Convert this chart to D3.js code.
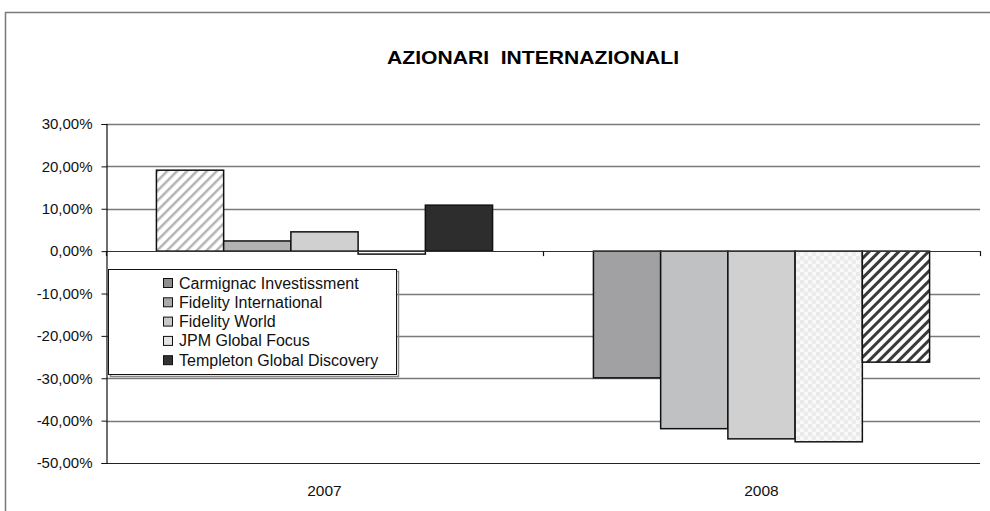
<!DOCTYPE html>
<html>
<head>
<meta charset="utf-8">
<script src="https://cdn.jsdelivr.net/npm/d3@7"></script>
<style>
  body { margin: 0; background: #fff; }
  svg { display: block; font-family: "Liberation Sans", Arial, sans-serif; }
</style>
</head>
<body>
<div class="chart"></div>
<script>
// data (percent)
var years = ["2007", "2008"];
var seriesNames = ["Carmignac Investissment", "Fidelity International", "Fidelity World", "JPM Global Focus", "Templeton Global Discovery"];
var carmignac = [19.1, -29.9];
var fidelityInt = [2.4, -41.9];
var fidelityWorld = [4.55, -44.3];
var jpmGlobal = [-0.7, -45.0];
var templeton = [10.85, -26.2];
var yTicks = [30, 20, 10, 0, -10, -20, -30, -40, -50];

var values = [carmignac, fidelityInt, fidelityWorld, jpmGlobal, templeton];

// per point fills (Excel style formatting), [year][series]
var pointFills = [
  ["url(#hatchLight)", "#b2b2b2", "#d0d0d0", "#ffffff", "#2d2d2d"],
  ["#a1a1a4", "#c0c1c3", "#d0d0d0", "url(#dots)", "url(#hatchDark)"]
];
var legendFills = ["#8e8e8e", "#aaaaaa", "#c8c8c8", "#e4e4e4", "#333333"];

var width = 990, height = 511;
var plotL = 106, plotR = 980, plotT = 124, plotB = 463;

var svg = d3.select(".chart").append("svg").attr("width", width).attr("height", height);
var defs = svg.append("defs");

var h1 = defs.append("pattern").attr("id", "hatchLight").attr("patternUnits", "userSpaceOnUse")
	.attr("width", 7).attr("height", 7).attr("patternTransform", "rotate(45)");
h1.append("rect").attr("width", 7).attr("height", 7).attr("fill", "#fff");
h1.append("rect").attr("width", 2.5).attr("height", 7).attr("fill", "#b4b4b4");

var h2 = defs.append("pattern").attr("id", "hatchDark").attr("patternUnits", "userSpaceOnUse")
	.attr("width", 7).attr("height", 7).attr("patternTransform", "rotate(45)");
h2.append("rect").attr("width", 7).attr("height", 7).attr("fill", "#fff");
h2.append("rect").attr("width", 3).attr("height", 7).attr("fill", "#3a3a3a");

var dp = defs.append("pattern").attr("id", "dots").attr("patternUnits", "userSpaceOnUse")
	.attr("width", 8).attr("height", 8);
dp.append("rect").attr("width", 8).attr("height", 8).attr("fill", "#f9f9f9");
dp.append("circle").attr("cx", 2).attr("cy", 2).attr("r", 2.4).attr("fill", "#e9e9e9");
dp.append("circle").attr("cx", 6).attr("cy", 6).attr("r", 2.4).attr("fill", "#ececec");

// outer chart frame
svg.append("path").attr("d", "M5.5,511 L5.5,12.5 L990,12.5")
	.attr("fill", "none").attr("stroke", "#7a7a7a").attr("stroke-width", 1.5);

svg.append("text").attr("x", 533).attr("y", 64).attr("text-anchor", "middle")
	.style("white-space", "pre").attr("font-weight", "bold").attr("font-size", 18.5)
	.attr("textLength", 292).attr("lengthAdjust", "spacingAndGlyphs")
	.text("AZIONARI  INTERNAZIONALI");

var y = d3.scaleLinear().domain([-50, 30]).range([plotB, plotT]);
var x0 = d3.scaleBand().domain(years).range([plotL, plotR]);
var x1 = d3.scaleBand().domain(d3.range(seriesNames.length)).range([0, x0.bandwidth()])
	.paddingInner(0).paddingOuter(0.75);

// gridlines
svg.append("g").selectAll("line").data(yTicks.filter(function(d){ return d != 0 && d != -50; }))
	.enter().append("line")
	.attr("x1", plotL).attr("x2", plotR)
	.attr("y1", function(d){ return Math.round(y(d)) + 0.5; })
	.attr("y2", function(d){ return Math.round(y(d)) + 0.5; })
	.attr("stroke", "#7a7a7a").attr("stroke-width", 1.3);

// bars
years.forEach(function(yr, yi) {
	svg.append("g").selectAll("rect").data(values).enter().append("rect")
		.attr("x", function(d, i){ return x0(yr) + x1(i); })
		.attr("width", x1.bandwidth())
		.attr("y", function(d){ return y(Math.max(0, d[yi])); })
		.attr("height", function(d){ return Math.abs(y(d[yi]) - y(0)); })
		.attr("fill", function(d, i){ return pointFills[yi][i]; })
		.attr("stroke", "#111").attr("stroke-width", 1.5);
});

// zero line (category axis) and bottom line
svg.append("line").attr("x1", plotL).attr("x2", plotR)
	.attr("y1", Math.round(y(0)) + 0.5).attr("y2", Math.round(y(0)) + 0.5)
	.attr("stroke", "#333").attr("stroke-width", 1.2);
svg.append("line").attr("x1", plotL).attr("x2", plotR)
	.attr("y1", Math.round(y(-50)) + 0.5).attr("y2", Math.round(y(-50)) + 0.5)
	.attr("stroke", "#222").attr("stroke-width", 1.2);

// category tick marks on zero line
var bounds = years.map(function(d){ return x0(d); }).concat([plotR]);
svg.append("g").selectAll("line").data(bounds).enter().append("line")
	.attr("x1", function(d){ return Math.round(d) + 0.5; })
	.attr("x2", function(d){ return Math.round(d) + 0.5; })
	.attr("y1", y(0)).attr("y2", y(0) + 5)
	.attr("stroke", "#111").attr("stroke-width", 1.2);

// y axis
var yAxis = d3.axisLeft(y).tickValues(yTicks).tickSize(5).tickPadding(9)
	.tickFormat(function(d){ return d.toFixed(2).replace(".", ",") + "%"; });
var ya = svg.append("g").attr("transform", "translate(" + (plotL + 0.5) + ",0)").call(yAxis);
ya.select(".domain").attr("stroke", "#111").attr("stroke-width", 1.2);
ya.selectAll(".tick line").attr("stroke", "#111");
ya.selectAll(".tick text").attr("font-size", 15).attr("fill", "#111")
	.attr("font-family", "Liberation Sans, Arial, sans-serif");

// category labels
svg.append("g").selectAll("text").data(years).enter().append("text")
	.attr("x", function(d){ return x0(d) + x0.bandwidth() / 2; })
	.attr("y", 496).attr("text-anchor", "middle").attr("font-size", 15.5).attr("fill", "#111")
	.text(function(d){ return d; });

// legend
var lg = svg.append("g");
lg.append("rect").attr("x", 110.5).attr("y", 271.5).attr("width", 288).attr("height", 105)
	.attr("fill", "none").attr("stroke", "#888").attr("stroke-width", 1.5);
lg.append("rect").attr("x", 108.5).attr("y", 269.5).attr("width", 288).attr("height", 105)
	.attr("fill", "#fff").attr("stroke", "#111").attr("stroke-width", 1);
var items = lg.selectAll("g.item").data(seriesNames).enter().append("g")
	.attr("transform", function(d, i){ return "translate(163," + (283 + i * 19.3) + ")"; });
items.append("rect").attr("x", 0.5).attr("y", -4.5).attr("width", 9).attr("height", 9)
	.attr("fill", function(d, i){ return legendFills[i]; })
	.attr("stroke", "#111").attr("stroke-width", 1);
items.append("text").attr("x", 16).attr("y", 5.5).attr("font-size", 16).attr("fill", "#111")
	.text(function(d){ return d; });
</script>
</body>
</html>
